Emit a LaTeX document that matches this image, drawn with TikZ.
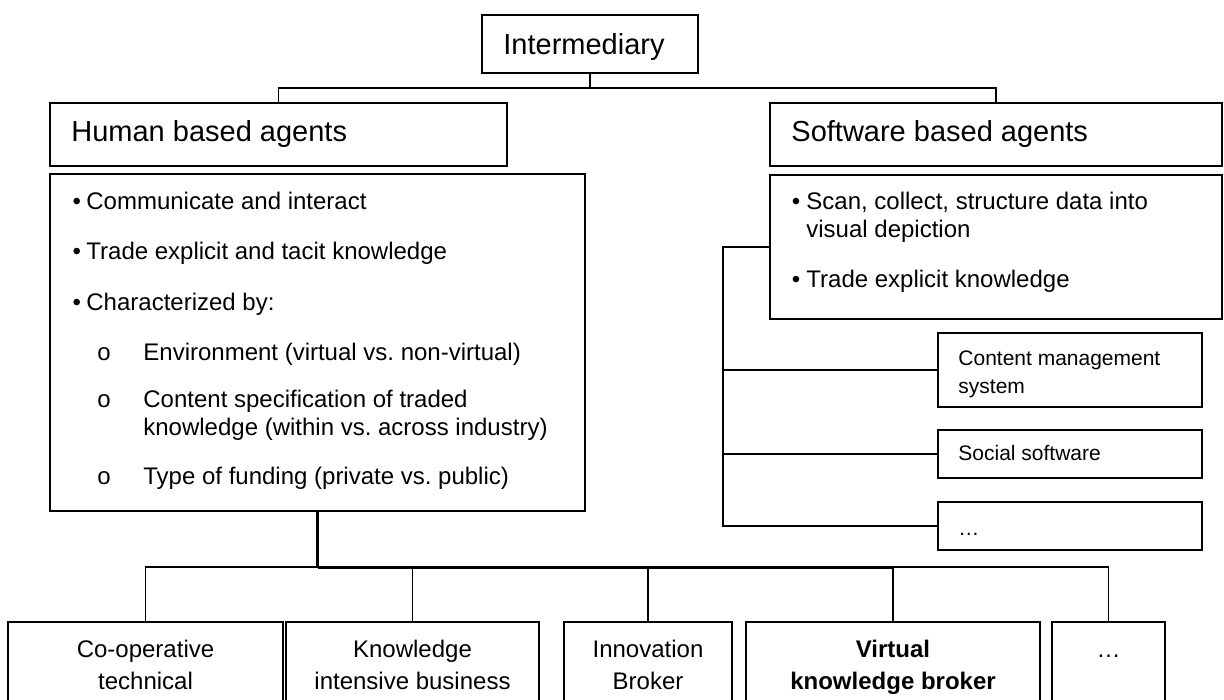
\documentclass[tikz,border=0pt]{standalone}
\usepackage{fontspec}
\setmainfont{Liberation Sans}
\usetikzlibrary{fit}
\frenchspacing
\begin{document}
\begin{tikzpicture}[x=0.5pt,y=-0.5pt,
  box/.style={draw, line width=0.9pt, inner sep=0pt},
  conn/.style={line width=0.8pt},
  thickconn/.style={line width=1.5pt},
  head/.style={anchor=base west, inner sep=0pt, font=\fontsize{14.5pt}{17pt}\selectfont},
  txt/.style={anchor=base west, inner sep=0pt, font=\fontsize{12pt}{14pt}\selectfont},
  small/.style={anchor=base west, inner sep=0pt, font=\fontsize{10.5pt}{13pt}\selectfont},
  ctr/.style={anchor=base, inner sep=0pt, font=\fontsize{12pt}{14pt}\selectfont}]
\useasboundingbox (0,0) rectangle (1224,700);
\clip (0,0) rectangle (1224,700);

% boxes
\node[box, fit={(482,15)(698,73)}] (inter) {};
\node[box, fit={(50,103)(507,166)}] (hum) {};
\node[box, fit={(770,103)(1222,166)}] (sw) {};
\node[box, fit={(50,174)(585,511)}] (hb) {};
\node[box, fit={(770,175)(1222,319)}] (sb) {};
\node[box, fit={(938,333)(1202,407)}] (cms) {};
\node[box, fit={(938,430)(1202,478)}] (soc) {};
\node[box, fit={(938,502)(1202,550)}] (setc) {};
\node[box, fit={(8,622)(283,720)}] (co) {};
\node[box, fit={(286,622)(539,720)}] (kn) {};
\node[box, fit={(564,622)(732,720)}] (inn) {};
\node[box, fit={(746,622)(1040,720)}] (vir) {};
\node[box, fit={(1052,622)(1165,720)}] (dots) {};

% texts
\node[head] (tinter) at (503,55) {Intermediary};
\node[head] (thum) at (71,142) {Human based agents};
\node[head] (tsw) at (791,142) {Software based agents};

\node[txt] (hb1d) at (72.3,209) {•};
\node[txt] (hb1) at (86,209) {Communicate and interact};
\node[txt] (hb2d) at (72.3,259) {•};
\node[txt] (hb2) at (86,259) {Trade explicit and tacit knowledge};
\node[txt] (hb3d) at (72.3,310) {•};
\node[txt] (hb3) at (86,310) {Characterized by:};
\node[txt] (hs1o) at (97,360) {o};
\node[txt] (hs1) at (143,360) {Environment (virtual vs. non-virtual)};
\node[txt] (hs2o) at (97,407) {o};
\node[txt] (hs2a) at (143,407) {Content specification of traded};
\node[txt] (hs2b) at (143,435) {knowledge (within vs. across industry)};
\node[txt] (hs3o) at (97,484) {o};
\node[txt] (hs3) at (143,484) {Type of funding (private vs. public)};

\node[txt] (sb1d) at (791.5,209) {•};
\node[txt] (sb1a) at (806,209) {Scan, collect, structure data into};
\node[txt] (sb1b) at (806,237) {visual depiction};
\node[txt] (sb2d) at (791.5,287) {•};
\node[txt] (sb2) at (806,287) {Trade explicit knowledge};

\node[small] (tcms1) at (958,365) {Content management};
\node[small] (tcms2) at (958,393) {system};
\node[small] (tsoc) at (958,460) {Social software};
\node[small] (tsetc) at (958,535) {…};

\node[ctr] (tco1) at (145.5,657) {Co-operative};
\node[ctr] (tco2) at (145.5,689) {technical};
\node[ctr] (tkn1) at (412.5,657) {Knowledge};
\node[ctr] (tkn2) at (412.5,689) {intensive business};
\node[ctr] (tinn1) at (648,657) {Innovation};
\node[ctr] (tinn2) at (648,689) {Broker};
\node[ctr, font=\fontsize{12pt}{14pt}\selectfont\bfseries] (tvir1) at (893,657) {Virtual};
\node[ctr, font=\fontsize{12pt}{14pt}\selectfont\bfseries] (tvir2) at (893,689) {knowledge broker};
\node[ctr] (tdots) at (1108.5,657) {…};

% connectors top
\coordinate (busT) at (590,88);
\draw[conn] (inter.south) -- (busT);
\draw[conn] (hum.north) |- (busT) -| (sw.north);

% connectors bottom
\coordinate (busB) at (317.5,567);
\draw[thickconn] (hb.south) -- (busB);
\draw[conn] (co.north) |- (busB) -| (dots.north);
\draw[thickconn] (busB) -- (vir.north |- busB);
\draw[conn] (kn.north) -- (kn.north |- busB);
\draw[conn] (inn.north) -- (inn.north |- busB);
\draw[conn] (vir.north) -- (vir.north |- busB);

% software spine
\coordinate (sp) at (723,247);
\draw[line width=1pt] (sb.west) -- (sp) |- (setc.west);
\draw[conn] (cms.west) -- (cms.west -| sp);
\draw[conn] (soc.west) -- (soc.west -| sp);
\end{tikzpicture}
\end{document}
